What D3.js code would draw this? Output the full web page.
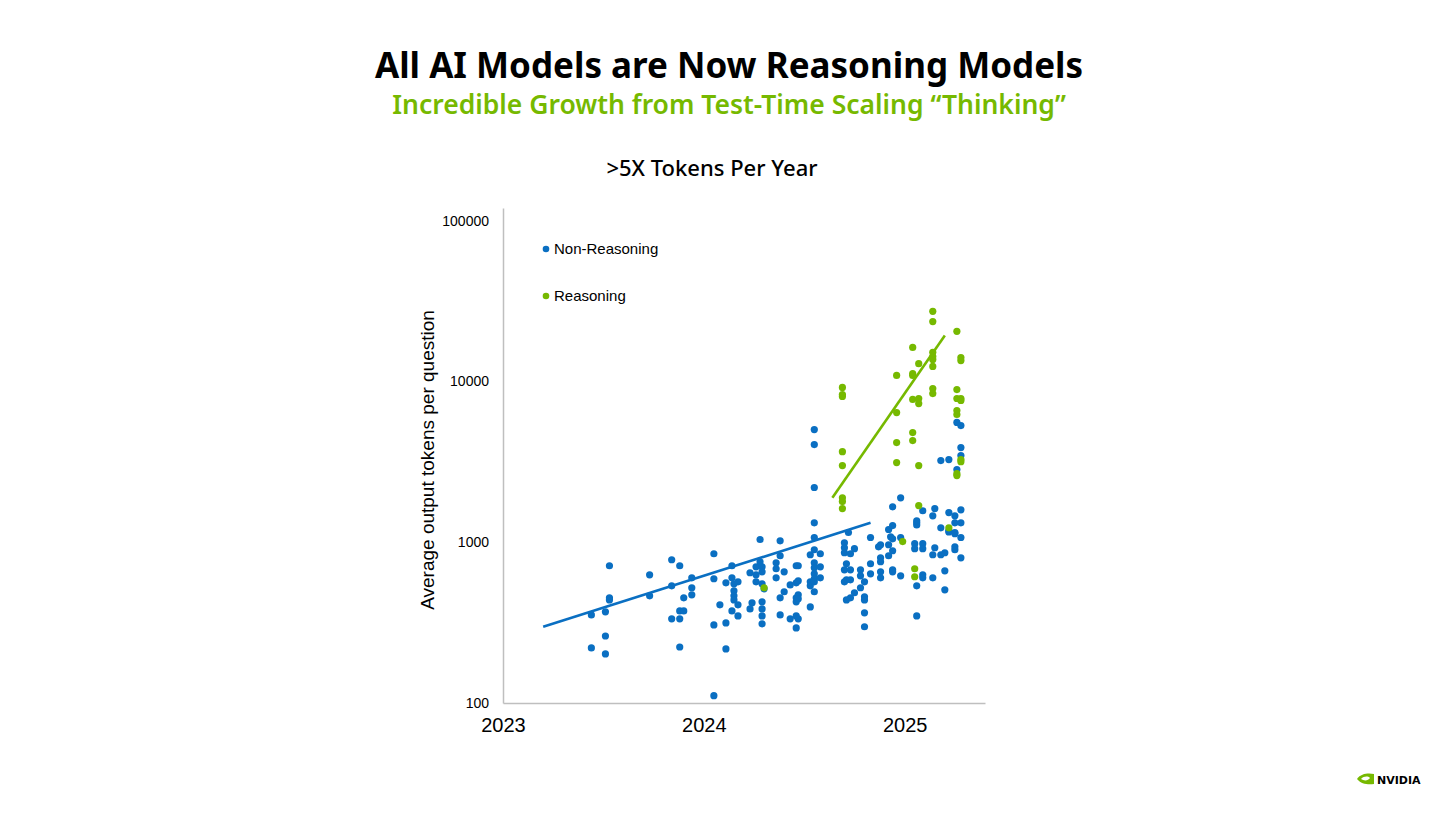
<!DOCTYPE html>
<html>
<head>
<meta charset="utf-8">
<script src="https://cdn.jsdelivr.net/npm/d3@7"></script>
<style>
  body { margin: 0; background: #fff; }
  svg { display: block; }
</style>
</head>
<body>
<script>
// decimal year, avg output tokens
const nonReasoning = [
  [2023.44, 353], [2023.44, 220], [2023.51, 369], [2023.53, 714], [2023.53, 451], [2023.53, 438],
  [2023.51, 261], [2023.51, 202], [2023.73, 627], [2023.73, 464], [2023.84, 778], [2023.88, 714],
  [2023.84, 536], [2023.84, 334], [2023.88, 334], [2023.88, 374], [2023.90, 374], [2023.88, 223],
  [2023.90, 451], [2023.94, 601], [2023.94, 521], [2023.94, 471],
  [2024.05, 848], [2024.28, 1040], [2024.38, 1020], [2024.14, 714], [2024.05, 593], [2024.11, 559],
  [2024.14, 601], [2024.17, 567], [2024.15, 551], [2024.15, 499], [2024.15, 464], [2024.15, 438],
  [2024.17, 408], [2024.14, 374], [2024.17, 348], [2024.08, 408], [2024.05, 306], [2024.11, 315],
  [2024.11, 217], [2024.05, 111], [2024.23, 646], [2024.26, 703], [2024.28, 756], [2024.29, 703],
  [2024.29, 655], [2024.26, 627], [2024.26, 567], [2024.29, 551], [2024.30, 513], [2024.29, 426],
  [2024.29, 385], [2024.29, 348], [2024.29, 311], [2024.24, 420], [2024.23, 385], [2024.36, 745],
  [2024.36, 684], [2024.36, 601], [2024.38, 824], [2024.40, 655], [2024.43, 543], [2024.38, 451],
  [2024.40, 492], [2024.38, 353], [2024.43, 334], [2024.46, 714], [2024.47, 714], [2024.46, 559],
  [2024.47, 576], [2024.46, 451], [2024.47, 471], [2024.46, 426], [2024.47, 445], [2024.46, 348],
  [2024.47, 334], [2024.46, 293], [2024.53, 396], [2024.53, 567], [2024.53, 536], [2024.55, 492],
  [2024.53, 836], [2024.55, 898], [2024.55, 1070], [2024.58, 848], [2024.55, 745], [2024.55, 693],
  [2024.55, 636], [2024.55, 593], [2024.58, 703], [2024.58, 601], [2024.55, 567], [2024.55, 1320],
  [2024.55, 5020], [2024.55, 4050], [2024.55, 2190],
  [2024.70, 993], [2024.70, 924], [2024.70, 860], [2024.70, 674], [2024.70, 567], [2024.71, 438],
  [2024.72, 1150], [2024.73, 848], [2024.75, 912], [2024.71, 735], [2024.73, 674], [2024.71, 584],
  [2024.73, 584], [2024.73, 451], [2024.75, 485], [2024.78, 674], [2024.78, 618], [2024.80, 567],
  [2024.78, 521], [2024.80, 458], [2024.80, 438], [2024.80, 364], [2024.80, 298], [2024.83, 1070],
  [2024.83, 735], [2024.83, 636], [2024.88, 965], [2024.87, 937], [2024.88, 800], [2024.88, 756],
  [2024.88, 655], [2024.88, 601], [2024.92, 1200], [2024.93, 1080], [2024.94, 1270], [2024.94, 1050],
  [2024.92, 965], [2024.94, 885], [2024.92, 824], [2024.94, 674], [2024.94, 655], [2024.98, 618],
  [2024.98, 1070], [2024.94, 1660], [2024.98, 1890],
  [2025.06, 1320], [2025.06, 1280], [2025.06, 1360], [2025.05, 979], [2025.05, 912], [2025.09, 979],
  [2025.09, 912], [2025.06, 536], [2025.09, 627], [2025.09, 601], [2025.06, 348], [2025.09, 1570],
  [2025.15, 1620], [2025.14, 1460], [2025.22, 1530], [2025.25, 1460], [2025.28, 1590], [2025.25, 1320],
  [2025.28, 1320], [2025.18, 1230], [2025.22, 1180], [2025.22, 1160], [2025.25, 1150], [2025.25, 1130],
  [2025.15, 924], [2025.14, 836], [2025.18, 836], [2025.20, 860], [2025.25, 937], [2025.25, 898],
  [2025.28, 1070], [2025.28, 800], [2025.14, 601], [2025.20, 664], [2025.20, 506],
  [2025.26, 5560], [2025.28, 5320], [2025.28, 3880], [2025.28, 3460], [2025.26, 2830], [2025.18, 3220],
  [2025.22, 3270]
];

const reasoning = [
  [2024.30, 521],
  [2024.69, 9180], [2024.69, 8300], [2024.69, 8070], [2024.69, 3660], [2024.69, 3000], [2024.69, 1890],
  [2024.69, 1790], [2024.69, 1620],
  [2024.96, 10900], [2024.96, 6410], [2024.96, 4170], [2024.96, 3130], [2024.99, 1010],
  [2025.04, 16300], [2025.04, 10900], [2025.04, 11200], [2025.04, 7730], [2025.04, 4810], [2025.04, 4290],
  [2025.07, 12900], [2025.07, 7840], [2025.07, 7290], [2025.07, 3000], [2025.07, 1690],
  [2025.05, 684], [2025.05, 610],
  [2025.14, 27300], [2025.14, 23600], [2025.14, 15200], [2025.14, 14300], [2025.14, 13700], [2025.14, 12400],
  [2025.14, 9040], [2025.14, 8410], [2025.22, 1230],
  [2025.26, 20500], [2025.26, 8910], [2025.26, 7840], [2025.26, 6590], [2025.26, 6230], [2025.26, 2670],
  [2025.26, 2600], [2025.28, 14100], [2025.28, 13500], [2025.28, 7840], [2025.28, 7620], [2025.28, 3270],
  [2025.28, 3170]
];

// trend line end points
const nonReasoningTrend = [[2023.20, 298], [2024.83, 1320]];
const reasoningTrend = [[2024.64, 1890], [2025.20, 19300]];

const yTicks = [100, 1000, 10000, 100000];
const xTicks = [2023, 2024, 2025];

const blue = "#0a6fc2";
const green = "#76b900";

window.onload = function() {
    const w = 1456, h = 818;

    const svg = d3.select("body").append("svg")
        .attr("width", w)
        .attr("height", h);

    // headings
    svg.append("text")
        .attr("x", 729).attr("y", 78)
        .attr("text-anchor", "middle")
        .style("font-family", "'Noto Sans', sans-serif")
        .style("font-weight", 700)
        .style("font-size", "35px")
        .style("fill", "#000")
        .text("All AI Models are Now Reasoning Models");

    svg.append("text")
        .attr("x", 729).attr("y", 114)
        .attr("text-anchor", "middle")
        .style("font-family", "'Noto Sans', sans-serif")
        .style("font-weight", 600)
        .style("font-size", "26.5px")
        .style("fill", green)
        .text("Incredible Growth from Test-Time Scaling \u201cThinking\u201d");

    svg.append("text")
        .attr("x", 712).attr("y", 176)
        .attr("text-anchor", "middle")
        .style("font-family", "'Noto Sans', sans-serif")
        .style("font-weight", 500)
        .style("font-size", "22px")
        .style("fill", "#000")
        .text(">5X Tokens Per Year");

    const x = d3.scaleLinear()
        .domain([2023, 2025.4])
        .range([503, 985]);

    const y = d3.scaleLog()
        .domain([100, 120000])
        .range([703, 208]);

    // y axis
    const yAxis = svg.append("g")
        .attr("transform", "translate(503,0)")
        .call(d3.axisLeft(y).tickValues(yTicks).tickSize(0).tickPadding(14).tickFormat(d3.format("d")));
    yAxis.select(".domain").attr("stroke", "#bfbfbf").attr("stroke-width", 1.5);
    yAxis.selectAll("text")
        .style("font-family", "'Liberation Sans', Arial, sans-serif")
        .style("font-size", "14px")
        .style("fill", "#000");

    // x axis
    const xAxis = svg.append("g")
        .attr("transform", "translate(0,703)")
        .call(d3.axisBottom(x).tickValues(xTicks).tickSize(0).tickPadding(15).tickFormat(d3.format("d")));
    xAxis.select(".domain").attr("stroke", "#bfbfbf").attr("stroke-width", 1.5);
    xAxis.selectAll("text")
        .style("font-family", "'Liberation Sans', Arial, sans-serif")
        .style("font-size", "20px")
        .style("fill", "#000");

    svg.append("text")
        .attr("transform", "translate(434,460) rotate(-90)")
        .attr("text-anchor", "middle")
        .style("font-family", "'Liberation Sans', Arial, sans-serif")
        .style("font-size", "19px")
        .style("fill", "#000")
        .text("Average output tokens per question");

    // points
    svg.selectAll(".nonReasoning")
        .data(nonReasoning)
        .enter()
        .append("circle")
        .attr("class", "nonReasoning")
        .attr("cx", d => x(d[0]))
        .attr("cy", d => y(d[1]))
        .attr("r", 3.6)
        .style("fill", blue);

    svg.selectAll(".reasoning")
        .data(reasoning)
        .enter()
        .append("circle")
        .attr("class", "reasoning")
        .attr("cx", d => x(d[0]))
        .attr("cy", d => y(d[1]))
        .attr("r", 3.6)
        .style("fill", green);

    // trend lines
    const line = d3.line().x(d => x(d[0])).y(d => y(d[1]));
    svg.append("path")
        .datum(nonReasoningTrend)
        .attr("d", line)
        .attr("fill", "none")
        .attr("stroke", blue)
        .attr("stroke-width", 2.6);
    svg.append("path")
        .datum(reasoningTrend)
        .attr("d", line)
        .attr("fill", "none")
        .attr("stroke", green)
        .attr("stroke-width", 2.6);

    // legend
    const legend = [["Non-Reasoning", blue, 249], ["Reasoning", green, 296]];
    legend.forEach(function(l) {
        svg.append("circle")
            .attr("cx", 546).attr("cy", l[2])
            .attr("r", 3.3)
            .style("fill", l[1]);
        svg.append("text")
            .attr("x", 554).attr("y", l[2] + 5)
            .style("font-family", "'Liberation Sans', Arial, sans-serif")
            .style("font-size", "15px")
            .style("fill", "#000")
            .text(l[0]);
    });

    // nvidia mark
    const logo = svg.append("g").attr("transform", "translate(1357,773)");
    logo.append("path")
        .attr("d", "M0,6 C4,0 12,0 17,1 L17,11 C11,12 4,11 0,6 Z")
        .style("fill", green);
    logo.append("path")
        .attr("d", "M4,6 C7,3 11,3 13,5 C11,8 7,8 4,6 Z")
        .style("fill", "#fff");
    logo.append("text")
        .attr("x", 20).attr("y", 10.5)
        .style("font-family", "'DejaVu Sans', sans-serif")
        .style("font-weight", 700)
        .style("font-size", "11px")
        .style("fill", "#000")
        .text("NVIDIA");
};
</script>
</body>
</html>
